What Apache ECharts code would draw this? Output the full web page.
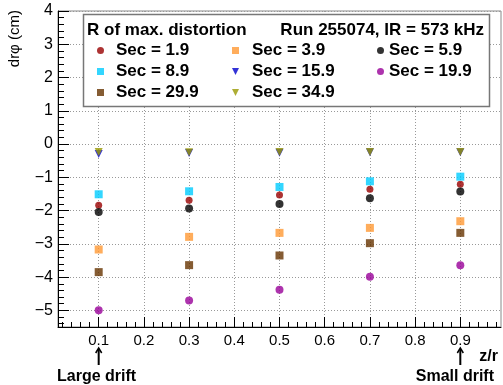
<!DOCTYPE html>
<html>
<head>
<meta charset="utf-8">
<script src="https://cdn.jsdelivr.net/npm/echarts@6/dist/echarts.min.js"></script>
<style>
  html, body { margin: 0; padding: 0; background: #fff; }
  #chart { width: 503px; height: 385px; }
</style>
</head>
<body>
<div id="chart"></div>
<script>
// drphi at the R of max. distortion vs z/r, one series per sector
const zr = [0.1, 0.3, 0.5, 0.7, 0.9];
const sec1_9 = [-1.84, -1.69, -1.53, -1.36, -1.21];
const sec3_9 = [-3.17, -2.79, -2.67, -2.52, -2.32];
const sec5_9 = [-2.04, -1.94, -1.80, -1.63, -1.43];
const sec8_9 = [-1.51, -1.42, -1.29, -1.12, -0.98];
const sec15_9 = [-0.30, -0.27, -0.26, -0.25, -0.25];
const sec19_9 = [-5.00, -4.70, -4.38, -3.99, -3.64];
const sec29_9 = [-3.85, -3.64, -3.35, -2.98, -2.67];
const sec34_9 = [-0.24, -0.25, -0.24, -0.24, -0.24];

const xTicks = [0.1, 0.2, 0.3, 0.4, 0.5, 0.6, 0.7, 0.8, 0.9];
const yTicks = [-5, -4, -3, -2, -1, 0, 1, 2, 3, 4];

const xMin = 0.01, xMax = 0.99;
const yMin = -5.5, yMax = 4;

// minor tick positions (5 subdivisions)
const xMinor = [];
for (let i = 1; i < 50; i++) { if (i % 5 !== 0) xMinor.push(+(i * 0.02).toFixed(2)); }
const yMinor = [];
for (let i = -27; i < 20; i++) { if (i % 5 !== 0) yMinor.push(+(i * 0.2).toFixed(1)); }

const F = '"Liberation Sans", Arial, Helvetica, sans-serif';
const minus = v => String(v).replace('-', '\u2212');
const downTri = 'path://M0,0L10,0L5,10Z';

const defs = [
  { name: 'Sec = 1.9', data: sec1_9, color: '#990000', symbol: 'circle', size: 7 },
  { name: 'Sec = 3.9', data: sec3_9, color: '#ff9933', symbol: 'rect', size: 8 },
  { name: 'Sec = 5.9', data: sec5_9, color: '#000000', symbol: 'circle', size: 8 },
  { name: 'Sec = 8.9', data: sec8_9, color: '#00ccff', symbol: 'rect', size: 8 },
  { name: 'Sec = 15.9', data: sec15_9, color: '#0000cc', symbol: downTri, size: 8 },
  { name: 'Sec = 19.9', data: sec19_9, color: '#990099', symbol: 'circle', size: 8 },
  { name: 'Sec = 29.9', data: sec29_9, color: '#663300', symbol: 'rect', size: 8 },
  { name: 'Sec = 34.9', data: sec34_9, color: '#999900', symbol: downTri, size: 8 }
];

const series = defs.map(d => ({
  name: d.name,
  type: 'scatter',
  xAxisIndex: 0,
  yAxisIndex: 0,
  symbol: d.symbol,
  symbolSize: d.size,
  itemStyle: { color: d.color },
  data: zr.map((x, i) => [x, d.data[i]]),
  z: 3
}));

const legendText = { fontFamily: F, fontWeight: 'bold', fontSize: 17, color: '#000', lineHeight: 17, padding: [0, 0, 0, 7] };
const legendCol = (names, left, pad) => ({
  orient: 'vertical',
  left: left,
  top: 42,
  itemWidth: 7,
  itemHeight: 7,
  itemGap: 4,
  padding: 0,
  selectedMode: false,
  textStyle: Object.assign({}, legendText, { padding: [0, 0, 0, pad] }),
  data: names,
  z: 6
});

const chart = echarts.init(document.getElementById('chart'));
chart.setOption({
  animation: false,
  grid: {
    left: 58, right: 2, top: 11, bottom: 58,
    show: true, borderColor: '#888', borderWidth: 1
  },
  xAxis: [{
    type: 'value', min: xMin, max: xMax,
    axisLine: { show: true, onZero: false, lineStyle: { color: '#000', width: 1 } },
    axisTick: { show: true, inside: true, length: 10, customValues: xTicks, lineStyle: { color: '#000' } },
    axisLabel: {
      customValues: xTicks, margin: 6, color: '#000',
      fontFamily: F, fontSize: 15,
      formatter: v => v.toFixed(1)
    },
    splitLine: { show: true, lineStyle: { color: '#999', type: [1, 2], width: 1 } }
  }, {
    type: 'value', min: xMin, max: xMax, position: 'bottom',
    axisLine: { show: false, onZero: false },
    axisTick: { show: true, inside: true, length: 5, customValues: xMinor, lineStyle: { color: '#000' } },
    axisLabel: { show: false },
    splitLine: { show: false }
  }],
  yAxis: [{
    type: 'value', min: yMin, max: yMax,
    axisLine: { show: true, onZero: false, lineStyle: { color: '#000', width: 1 } },
    axisTick: { show: true, inside: true, length: 11, customValues: yTicks, lineStyle: { color: '#000' } },
    axisLabel: {
      customValues: yTicks, margin: 5, color: '#000',
      fontFamily: F, fontSize: 16,
      formatter: v => minus(v)
    },
    splitLine: { show: true, lineStyle: { color: '#999', type: [1, 2], width: 1 } }
  }, {
    type: 'value', min: yMin, max: yMax, position: 'left',
    axisLine: { show: false, onZero: false },
    axisTick: { show: true, inside: true, length: 6, customValues: yMinor, lineStyle: { color: '#000' } },
    axisLabel: { show: false },
    splitLine: { show: false }
  }],
  legend: [
    legendCol(['Sec = 1.9', 'Sec = 8.9', 'Sec = 29.9'], 97, 7),
    legendCol(['Sec = 3.9', 'Sec = 15.9', 'Sec = 34.9'], 232, 8),
    legendCol(['Sec = 5.9', 'Sec = 19.9'], 377, 0)
  ],
  series: series
});

// annotations placed from the axis scale
const px = v => chart.convertToPixel({ xAxisIndex: 0 }, v);
const xL = px(0.1), xR = px(0.9);
const arrow = x => ([
  { type: 'line', shape: { x1: x, y1: 349, x2: x, y2: 365 }, style: { stroke: '#000', lineWidth: 2 } },
  { type: 'polyline', shape: { points: [[x - 3, 353], [x, 348], [x + 3, 353]] }, style: { stroke: '#000', lineWidth: 1.5, fill: null } }
]);
const boldText = (x, y, text, align, size) => ({
  type: 'text', x: x, y: y,
  style: { text: text, fontFamily: F, fontWeight: 'bold', fontSize: size, fill: '#000', align: align, verticalAlign: 'middle' }
});

chart.setOption({
  graphic: [
    { type: 'rect', shape: { x: 83.5, y: 14.5, width: 406, height: 92 }, style: { fill: '#fff', stroke: '#777', lineWidth: 1.5 }, z: 4 },
    Object.assign(boldText(87, 30, 'R of max. distortion', 'left', 17), { z: 6 }),
    Object.assign(boldText(484, 30, 'Run 255074, IR = 573 kHz', 'right', 17), { z: 6 }),
    {
      type: 'text', x: 15, y: 10, rotation: Math.PI / 2,
      style: { text: 'dr\u03c6 (cm)', fontFamily: F, fontSize: 15, fill: '#000', align: 'right', verticalAlign: 'middle' }
    },
    boldText(498, 357, 'z/r', 'right', 16),
    boldText(57, 377, 'Large drift', 'left', 16),
    boldText(494, 377, 'Small drift', 'right', 16),
    ...arrow(xL),
    ...arrow(xR)
  ]
});
</script>
</body>
</html>
